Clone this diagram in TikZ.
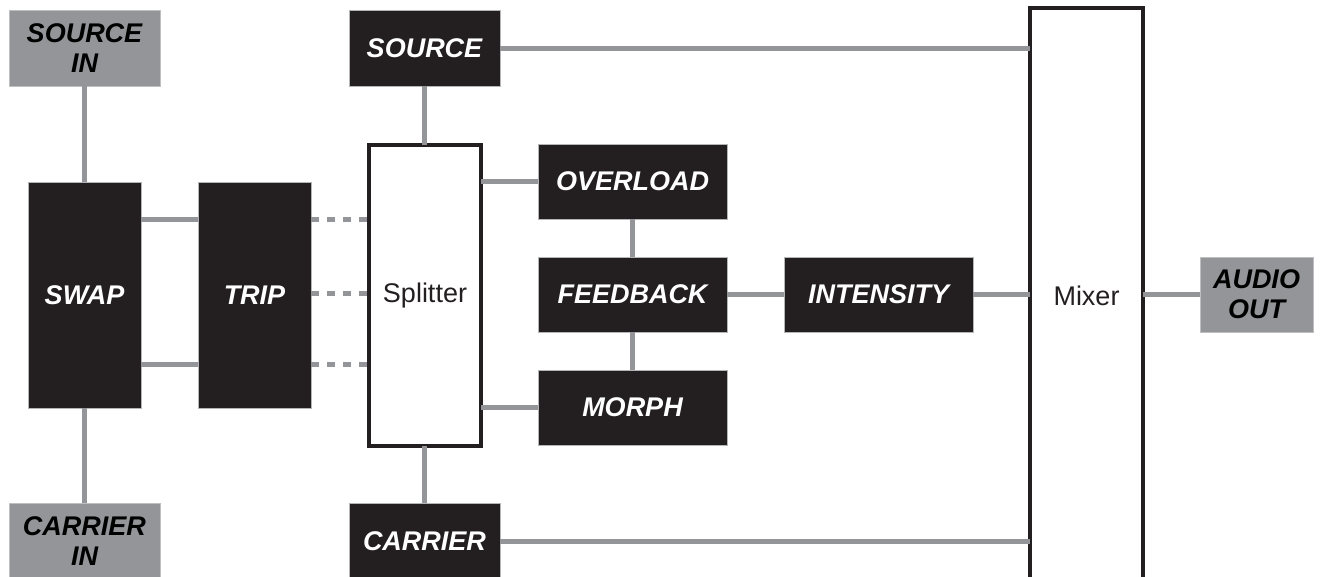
\documentclass[tikz,border=0pt]{standalone}
\usepackage{fontspec}
\setmainfont{Liberation Sans}
\definecolor{boxblack}{HTML}{231F20}
\definecolor{linegray}{HTML}{939598}
\begin{document}
\begin{tikzpicture}[x=1pt,y=-1pt,
  every node/.style={inner sep=0pt, outer sep=0pt, align=center,
    font=\fontsize{27}{30}\selectfont},
  darkbox/.style={fill=boxblack, draw=linegray!70, line width=0.6pt, text=white, font=\fontsize{27}{30}\selectfont\bfseries\itshape},
  graybox/.style={fill=linegray, draw=linegray!60, line width=0.6pt, text=black, font=\fontsize{27}{30}\selectfont\bfseries\itshape},
  framebox/.style={fill=white, draw=boxblack, line width=4pt, text=boxblack},
  wire/.style={draw=linegray, line width=5pt},
  dashwire/.style={draw=linegray, line width=5pt, dash pattern=on 8pt off 8pt}]
\useasboundingbox (0,0) rectangle (1320,576);
\clip (0,0) rectangle (1320,576);
% nodes
\node[graybox, minimum width=151pt, minimum height=76pt] (srcin) at (84.5,48) {SOURCE\\IN};
\node[graybox, minimum width=151pt, minimum height=76pt] (carrin) at (84.5,541) {CARRIER\\IN};
\node[darkbox, minimum width=113pt, minimum height=226pt] (swap) at (84.5,295) {SWAP};
\node[darkbox, minimum width=113pt, minimum height=226pt] (trip) at (254.5,295) {TRIP};
\node[darkbox, minimum width=151pt, minimum height=76pt] (source) at (424.5,48) {SOURCE};
\node[darkbox, minimum width=151pt, minimum height=76pt] (carrier) at (424.5,541) {CARRIER};
\node[framebox, minimum width=112pt, minimum height=301pt] (splitter) at (425,295.5) {Splitter};
\node[darkbox, minimum width=189pt, minimum height=75pt] (overload) at (632.5,181.5) {OVERLOAD};
\node[darkbox, minimum width=189pt, minimum height=75pt] (feedback) at (632.5,294.5) {FEEDBACK};
\node[darkbox, minimum width=189pt, minimum height=75pt] (morph) at (632.5,407.5) {MORPH};
\node[darkbox, minimum width=189pt, minimum height=75pt] (intensity) at (878.5,294.5) {INTENSITY};
\node[framebox, minimum width=113pt, minimum height=600pt, anchor=north] (mixer) at (1086.5,8) {};
\node[text=boxblack] (mixerlabel) at (1086.5,296) {Mixer};
\node[graybox, minimum width=113pt, minimum height=75pt] (audioout) at (1256.5,294.5) {AUDIO\\OUT};
% row coordinates
\coordinate (r1) at (0,219);
\coordinate (r2) at (0,293);
\coordinate (r3) at (0,364);
% connectors
\draw[wire] (srcin.south) -- (swap.north);
\draw[wire] (swap.south) -- (carrin.north);
\draw[wire] (swap.east |- r1) -- (trip.west |- r1);
\draw[wire] (swap.east |- r3) -- (trip.west |- r3);
\draw[dashwire] (trip.east |- r1) -- (splitter.west |- r1);
\draw[dashwire] (trip.east |- r2) -- (splitter.west |- r2);
\draw[dashwire] (trip.east |- r3) -- (splitter.west |- r3);
\draw[wire] (source.south) -- (source.south |- splitter.north);
\draw[wire] (carrier.north |- splitter.south) -- (carrier.north);
\draw[wire] (source.east) -- (source.east -| mixer.west);
\draw[wire] (carrier.east) -- (carrier.east -| mixer.west);
\draw[wire] (splitter.east |- overload.west) -- (overload.west);
\draw[wire] (splitter.east |- morph.west) -- (morph.west);
\draw[wire] (overload.south) -- (feedback.north);
\draw[wire] (feedback.south) -- (morph.north);
\draw[wire] (feedback.east) -- (intensity.west);
\draw[wire] (intensity.east) -- (intensity.east -| mixer.west);
\draw[wire] (audioout.west -| mixer.east) -- (audioout.west);
\end{tikzpicture}
\end{document}
